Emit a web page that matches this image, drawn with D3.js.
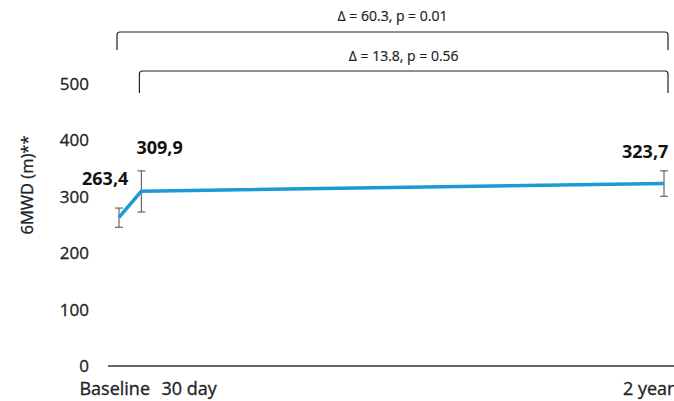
<!DOCTYPE html>
<html>
<head>
<meta charset="utf-8">
<script src="https://cdn.jsdelivr.net/npm/d3@7"></script>
<style>
  body { margin: 0; background: #fff; overflow: hidden; }
  svg { font-family: "Open Sans", "Noto Sans", sans-serif; }
</style>
</head>
<body>
<svg id="area" width="674" height="401"></svg>
<script>
// time points (days from baseline) and values
const days = [0, 30, 730];
const timeLabels = ["Baseline", "30 day", "2 year"];
const means = [263.4, 309.9, 323.7];
const errLow = [246, 273, 301];
const errHigh = [280, 346, 346];
const valueLabels = ["263,4", "309,9", "323,7"];
const yTicks = [0, 100, 200, 300, 400, 500];
const comparisons = [
  { from: 0, to: 2, text: "\u0394 = 60.3, p = 0.01" },
  { from: 1, to: 2, text: "\u0394 = 13.8, p = 0.56" }
];

const svg = d3.select("#area");
const x = d3.scaleLinear().domain([0, 730]).range([119, 664]);
const y = d3.scaleLinear().domain([0, 500]).range([366, 84]);

// y tick labels (no axis line)
const yAxis = d3.axisLeft(y).tickValues(yTicks).tickSize(0).tickPadding(0);
const ya = svg.append("g").attr("transform", "translate(89,0)").call(yAxis);
ya.select(".domain").remove();
ya.selectAll("text").attr("font-size", 17).attr("fill", "#222")
  .attr("stroke", "#222").attr("stroke-width", 0.3)
  .attr("font-family", "Open Sans, Noto Sans, sans-serif");

// x axis line
svg.append("line")
  .attr("x1", 108).attr("x2", 674)
  .attr("y1", y(0)).attr("y2", y(0))
  .attr("stroke", "#333").attr("stroke-width", 1.3);

// x labels
const xLabelPos = [
  { x: x(days[0]) + 31, anchor: "end" },
  { x: x(days[1]) + 20, anchor: "start" },
  { x: x(days[2]) - 41, anchor: "start" }
];
svg.selectAll(".xlab").data(timeLabels).join("text")
  .attr("class", "xlab")
  .attr("x", (d, i) => xLabelPos[i].x)
  .attr("y", 395)
  .attr("text-anchor", (d, i) => xLabelPos[i].anchor)
  .attr("font-size", 18).attr("fill", "#222")
  .attr("stroke", "#222").attr("stroke-width", 0.3)
  .text(d => d);

// y title
svg.append("text")
  .attr("transform", "translate(33,185) rotate(-90)")
  .attr("text-anchor", "middle")
  .attr("font-size", 16.5).attr("fill", "#222")
  .attr("stroke", "#222").attr("stroke-width", 0.3)
  .text("6MWD (m)**");

// error bars
const eb = svg.append("g").attr("stroke", "#666").attr("stroke-width", 1.2);
days.forEach((d, i) => {
  eb.append("line").attr("x1", x(d)).attr("x2", x(d))
    .attr("y1", y(errLow[i])).attr("y2", y(errHigh[i]));
  eb.append("line").attr("x1", x(d) - 4).attr("x2", x(d) + 4)
    .attr("y1", y(errLow[i])).attr("y2", y(errLow[i]));
  eb.append("line").attr("x1", x(d) - 4).attr("x2", x(d) + 4)
    .attr("y1", y(errHigh[i])).attr("y2", y(errHigh[i]));
});

// line
const line = d3.line().x((d, i) => x(days[i])).y(d => y(d));
svg.append("path").datum(means)
  .attr("d", line)
  .attr("fill", "none")
  .attr("stroke", "#1c9ad6")
  .attr("stroke-width", 3.5)
  .attr("stroke-linejoin", "round");

// value labels
const vPos = [
  { dx: -37, dy: -32 },
  { dx: -5, dy: -37 },
  { dx: -42, dy: -25 }
];
svg.selectAll(".vlab").data(valueLabels).join("text")
  .attr("class", "vlab")
  .attr("x", (d, i) => x(days[i]) + vPos[i].dx)
  .attr("y", (d, i) => y(means[i]) + vPos[i].dy)
  .attr("font-size", 18).attr("font-weight", "bold").attr("fill", "#111")
  .text(d => d);

// comparison brackets
const bTop = [32, 71];
const bBot = [50, 93];
const bText = [21, 61];
comparisons.forEach((c, i) => {
  const x1 = x(days[c.from]) - 2;
  const x2 = x(days[c.to]) + 4;
  const r = 3;
  const p = d3.path();
  p.moveTo(x1, bBot[i]);
  p.lineTo(x1, bTop[i] + r);
  p.quadraticCurveTo(x1, bTop[i], x1 + r, bTop[i]);
  p.lineTo(x2 - r, bTop[i]);
  p.quadraticCurveTo(x2, bTop[i], x2, bTop[i] + r);
  p.lineTo(x2, bBot[i]);
  svg.append("path").attr("d", p.toString())
    .attr("fill", "none").attr("stroke", "#222").attr("stroke-width", 1.2);
  svg.append("text")
    .attr("x", (x1 + x2) / 2)
    .attr("y", bText[i])
    .attr("text-anchor", "middle")
    .attr("font-size", 14).attr("fill", "#222")
    .attr("stroke", "#222").attr("stroke-width", 0.2)
    .text(c.text);
});
</script>
</body>
</html>
